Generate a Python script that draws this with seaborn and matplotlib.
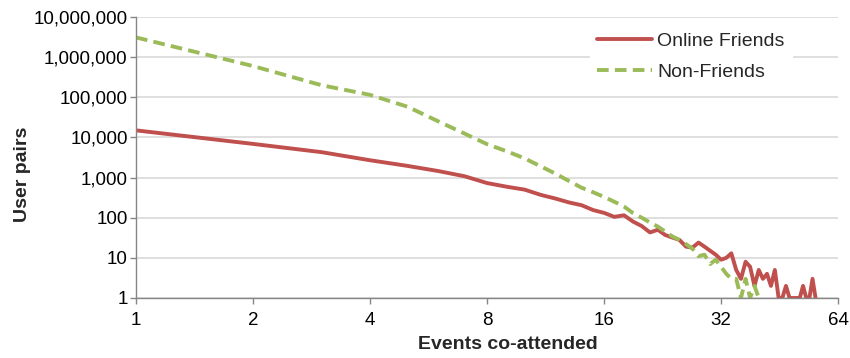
import numpy as np
import pandas as pd
import matplotlib.pyplot as plt
import seaborn as sns
from matplotlib.ticker import FixedLocator, FuncFormatter, NullLocator

sns.set_theme(style="white")
plt.rcParams["font.family"] = ["Liberation Sans", "DejaVu Sans"]

# Events co-attended (x) and number of user pairs (y)
friends_x = list(range(1, 57))
friends_y = [
    15000, 6900, 4300, 2700, 1950, 1450, 1080, 730, 590, 500,
    370, 300, 240, 205, 155, 132, 105, 115, 80, 62,
    43, 50, 37, 32, 28, 19, 18, 24, 19, 15,
    12, 9, 10, 13, 5, 3, 8, 6, 2, 5,
    3, 4, 2, 5, 1, 1, 2, 1, 1, 1,
    1, 2, 1, 1, 3, 1,
]

nonfriends_x = list(range(1, 41))
nonfriends_y = [
    3100000, 600000, 200000, 115000, 58000, 25000, 12500, 6800, 4500, 3000,
    1900, 1250, 820, 560, 430, 330, 250, 190, 130, 100,
    76, 60, 45, 34, 28, 22, 17, 11, 12, 7,
    9, 6, 4, 3, 3, 1, 3, 1, 2, 1,
]

series_names = ["Online Friends", "Non-Friends"]
series_colors = ["#C0504D", "#9BBB59"]

x_ticks = [1, 2, 4, 8, 16, 32, 64]
y_ticks = [1, 10, 100, 1000, 10000, 100000, 1000000, 10000000]


def build_frame():
    """
    Long-form table for seaborn.
    """
    df_friends = pd.DataFrame({
        "events": friends_x,
        "pairs": friends_y,
        "group": series_names[0],
    })
    df_non = pd.DataFrame({
        "events": nonfriends_x,
        "pairs": nonfriends_y,
        "group": series_names[1],
    })
    return pd.concat([df_friends, df_non], ignore_index=True)


def main():
    df = build_frame()

    fig, ax = plt.subplots(figsize=(8.5, 3.58), dpi=100)
    fig.subplots_adjust(left=0.16, right=0.986, top=0.9525, bottom=0.1676)

    sns.lineplot(
        data=df,
        x="events",
        y="pairs",
        hue="group",
        style="group",
        palette=dict(zip(series_names, series_colors)),
        dashes={series_names[0]: "", series_names[1]: (3, 1.6)},
        linewidth=2.8,
        ax=ax,
    )

    ax.set_xscale("log", base=2)
    ax.set_yscale("log")
    ax.set_xlim(1, 64)
    ax.set_ylim(1, 10000000)

    ax.xaxis.set_major_locator(FixedLocator(x_ticks))
    ax.xaxis.set_minor_locator(NullLocator())
    ax.xaxis.set_major_formatter(FuncFormatter(lambda v, p: f"{int(v)}"))
    ax.yaxis.set_major_locator(FixedLocator(y_ticks))
    ax.yaxis.set_minor_locator(NullLocator())
    ax.yaxis.set_major_formatter(FuncFormatter(lambda v, p: f"{int(v):,}"))

    ax.grid(axis="y", color="#d9d9d9", linewidth=1.2)
    ax.set_axisbelow(True)

    for side in ["top", "right"]:
        ax.spines[side].set_visible(False)
    for side in ["left", "bottom"]:
        ax.spines[side].set_color("#868686")
        ax.spines[side].set_linewidth(1.0)

    ax.tick_params(
        axis="both",
        which="major",
        direction="out",
        length=4,
        width=1,
        color="#868686",
        labelsize=13.5,
        labelcolor="black",
        left=True,
        bottom=True,
    )
    ax.tick_params(axis="x", pad=6)
    ax.tick_params(axis="y", pad=2)

    ax.set_xlabel("Events co-attended", fontsize=14, fontweight="bold")
    ax.set_ylabel("User pairs", fontsize=14, fontweight="bold")
    ax.xaxis.set_label_coords(0.53, -0.135)
    ax.yaxis.set_label_coords(-0.15, 0.44)

    leg = ax.legend(
        loc="upper left",
        bbox_to_anchor=(0.646, 0.972),
        fontsize=14,
        frameon=True,
        handlelength=2.8,
        handletextpad=0.27,
        labelspacing=0.68,
        borderpad=0.4,
        borderaxespad=0.0,
        fancybox=False,
    )
    leg.get_frame().set_facecolor("white")
    leg.get_frame().set_edgecolor("white")
    leg.get_frame().set_alpha(1.0)
    for line in leg.get_lines():
        line.set_linewidth(2.8)

    fig.savefig("out.png", dpi=100)
    plt.close(fig)


if __name__ == "__main__":
    main()
